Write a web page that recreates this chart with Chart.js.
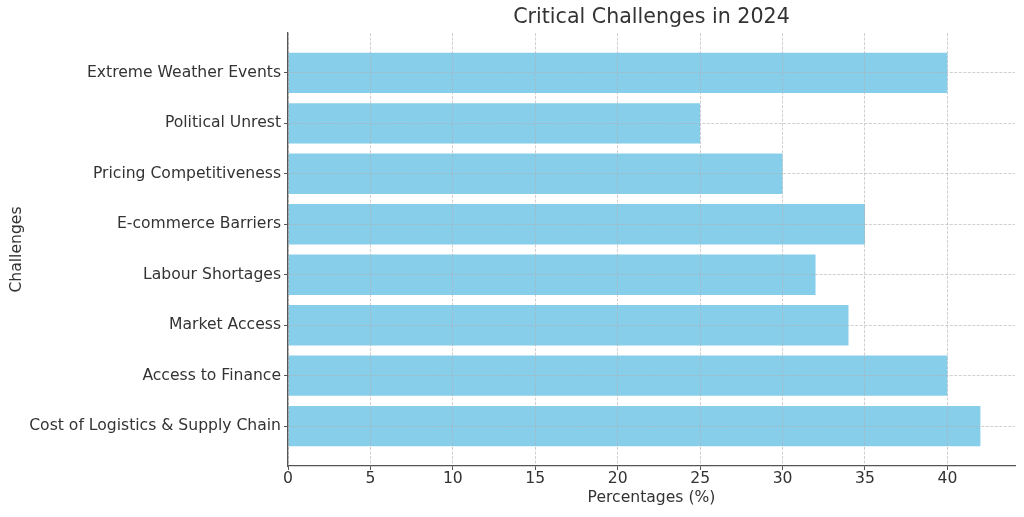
<!DOCTYPE html>
<html>
<head>
<meta charset="utf-8">
<script src="https://cdn.jsdelivr.net/npm/chart.js@4"></script>
<style>
  html, body { margin: 0; padding: 0; background: #fff; }
  #wrap { width: 1024px; height: 517px; }
</style>
</head>
<body>
<div id="wrap"><canvas id="myChart" width="1024" height="517"></canvas></div>
<script>
// bottom to top, as in the picture
const challenges = ['Cost of Logistics & Supply Chain', 'Access to Finance', 'Market Access', 'Labour Shortages',
	'E-commerce Barriers', 'Pricing Competitiveness', 'Political Unrest', 'Extreme Weather Events'];
const percentages = [42, 40, 34, 32, 35, 30, 25, 40];
const xTicks = [0, 5, 10, 15, 20, 25, 30, 35, 40];

const font = "'DejaVu Sans', sans-serif";
const gridColor = 'rgba(176,176,176,0.6)';
const txt = '#333';

const titlePlugin = {
	id: 'plotTitle',
	afterDraw(chart) {
		const a = chart.chartArea;
		const c = chart.ctx;
		c.save();
		c.font = '20.6px ' + font;
		c.fillStyle = txt;
		c.textAlign = 'center';
		c.textBaseline = 'middle';
		c.fillText('Critical Challenges in 2024', (a.left + a.right) / 2, 18);
		c.restore();
	}
};

const ctx = document.getElementById('myChart');
new Chart(ctx, {
	type: 'bar',
	data: {
		datasets: [{
			data: challenges.map((c, i) => ({ x: percentages[i], y: i })),
			backgroundColor: '#87CEEB',
			borderWidth: 0,
			barPercentage: 0.8,
			categoryPercentage: 1
		}]
	},
	plugins: [titlePlugin],
	options: {
		indexAxis: 'y',
		responsive: false,
		animation: false,
		layout: { padding: { top: 33, right: 9, left: 0, bottom: 0 } },
		plugins: { legend: { display: false }, tooltip: { enabled: false } },
		scales: {
			x: {
				type: 'linear',
				min: 0,
				max: 44.1,
				afterBuildTicks: s => { s.ticks = xTicks.map(v => ({ value: v })); },
				afterFit: s => { s.height = 51; },
				ticks: { color: txt, font: { family: font, size: 15.6 }, padding: 0, maxRotation: 0 },
				grid: { z: 1, color: gridColor, tickColor: '#555', tickLength: 4, tickBorderDash: [] },
				border: { z: 2, color: '#555', width: 1.3, dash: [3, 1.5] },
				title: { display: true, text: 'Percentages (%)', color: txt, font: { family: font, size: 15.6 }, padding: { top: 0, bottom: 10 } }
			},
			y: {
				type: 'linear',
				min: -0.79,
				max: 7.79,
				offset: false,
				afterBuildTicks: s => { s.ticks = challenges.map((c, i) => ({ value: i })); },
				afterFit: s => { s.width = 288; },
				ticks: { color: txt, font: { family: font, size: 15.6 }, padding: 3, callback: v => challenges[v] },
				grid: { z: 1, offset: false, color: gridColor, tickColor: '#555', tickLength: 4, tickBorderDash: [] },
				border: { z: 2, color: '#555', width: 1.3, dash: [3, 1.5] },
				title: { display: true, text: 'Challenges', color: txt, font: { family: font, size: 15.6 }, padding: { top: 8, bottom: 0 } }
			}
		}
	}
});
</script>
</body>
</html>
